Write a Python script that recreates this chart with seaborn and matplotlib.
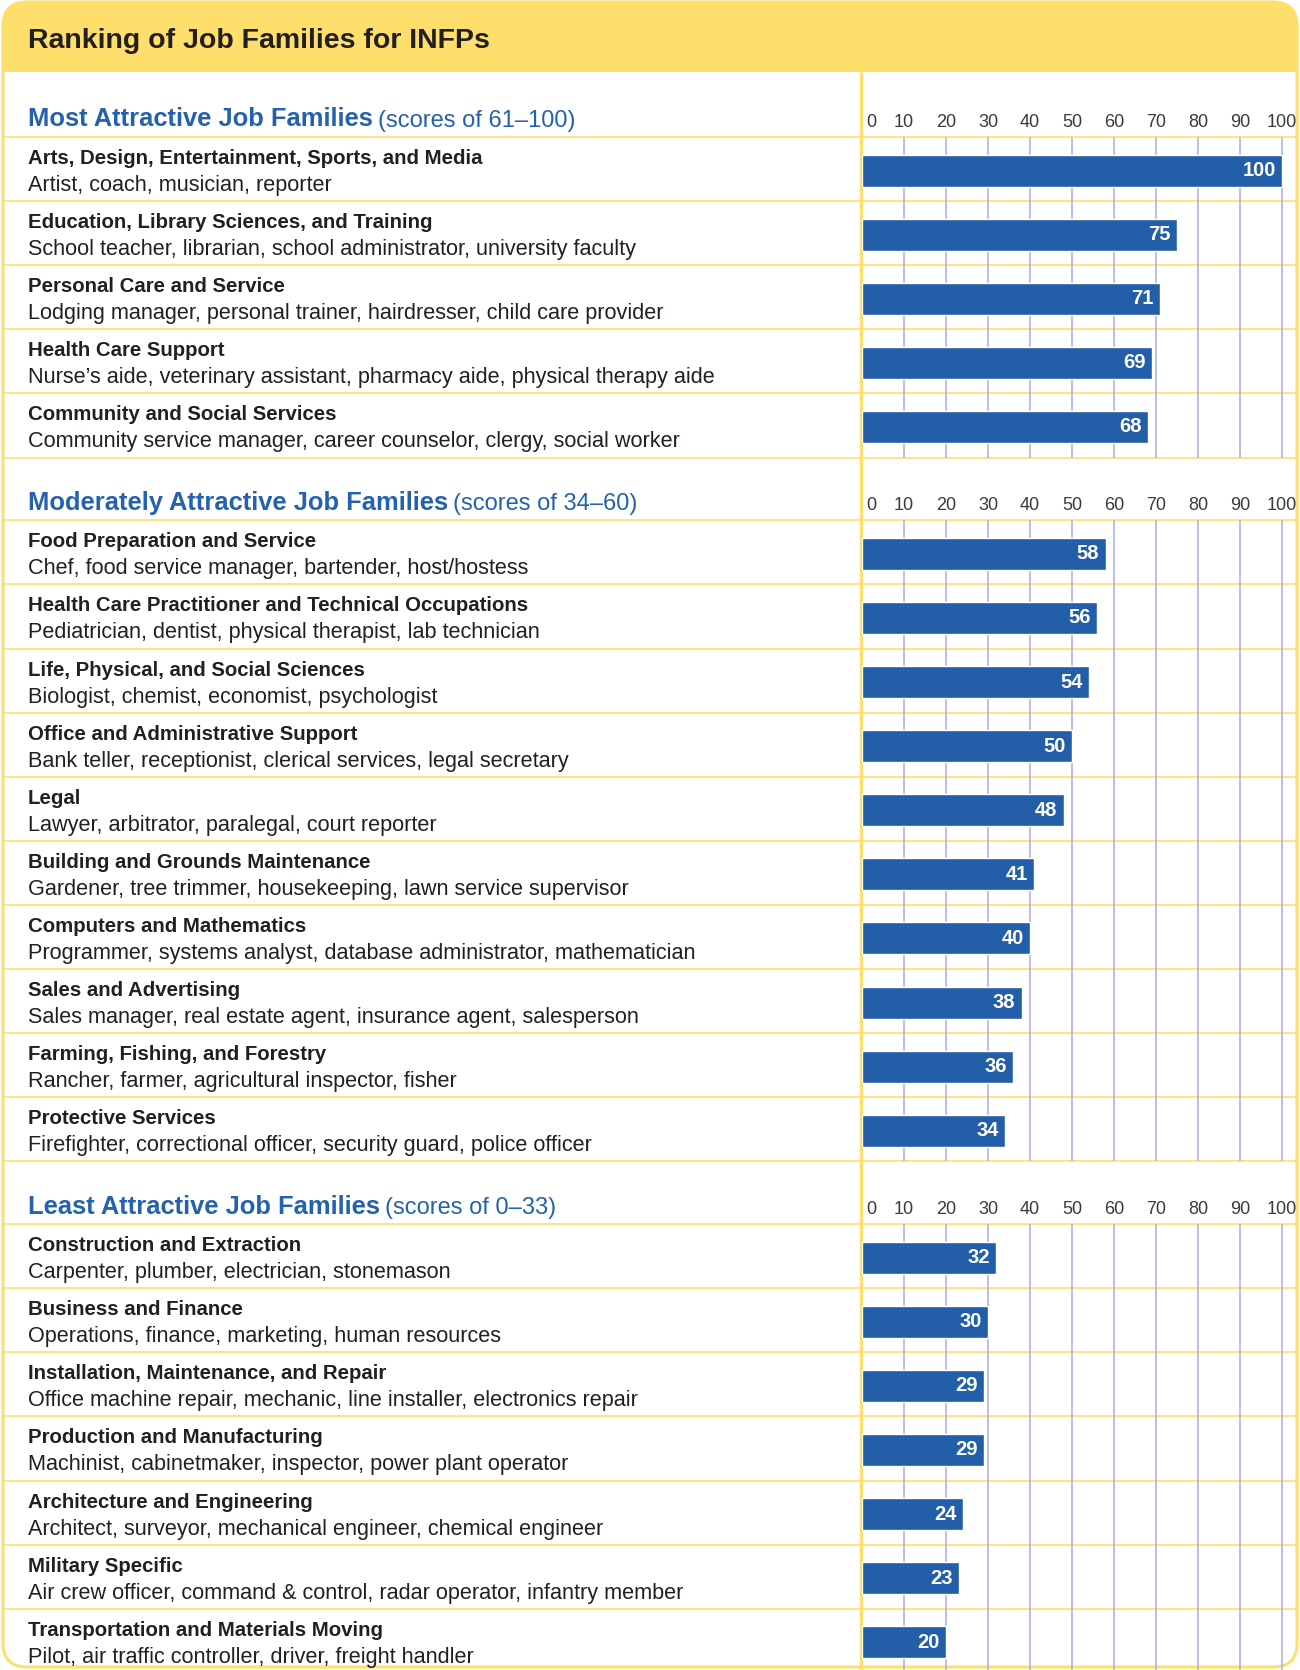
import matplotlib
matplotlib.use("Agg")
import matplotlib.pyplot as plt
from matplotlib.patches import FancyBboxPatch, Rectangle
from matplotlib.transforms import ScaledTranslation
import seaborn as sns
import pandas as pd

# ---- data ----
most_jobs = ["Arts, Design, Entertainment, Sports, and Media",
             "Education, Library Sciences, and Training",
             "Personal Care and Service",
             "Health Care Support",
             "Community and Social Services"]
most_examples = ["Artist, coach, musician, reporter",
                 "School teacher, librarian, school administrator, university faculty",
                 "Lodging manager, personal trainer, hairdresser, child care provider",
                 "Nurse’s aide, veterinary assistant, pharmacy aide, physical therapy aide",
                 "Community service manager, career counselor, clergy, social worker"]
most_scores = [100, 75, 71, 69, 68]

moderate_jobs = ["Food Preparation and Service",
                 "Health Care Practitioner and Technical Occupations",
                 "Life, Physical, and Social Sciences",
                 "Office and Administrative Support",
                 "Legal",
                 "Building and Grounds Maintenance",
                 "Computers and Mathematics",
                 "Sales and Advertising",
                 "Farming, Fishing, and Forestry",
                 "Protective Services"]
moderate_examples = ["Chef, food service manager, bartender, host/hostess",
                     "Pediatrician, dentist, physical therapist, lab technician",
                     "Biologist, chemist, economist, psychologist",
                     "Bank teller, receptionist, clerical services, legal secretary",
                     "Lawyer, arbitrator, paralegal, court reporter",
                     "Gardener, tree trimmer, housekeeping, lawn service supervisor",
                     "Programmer, systems analyst, database administrator, mathematician",
                     "Sales manager, real estate agent, insurance agent, salesperson",
                     "Rancher, farmer, agricultural inspector, fisher",
                     "Firefighter, correctional officer, security guard, police officer"]
moderate_scores = [58, 56, 54, 50, 48, 41, 40, 38, 36, 34]

least_jobs = ["Construction and Extraction",
              "Business and Finance",
              "Installation, Maintenance, and Repair",
              "Production and Manufacturing",
              "Architecture and Engineering",
              "Military Specific",
              "Transportation and Materials Moving"]
least_examples = ["Carpenter, plumber, electrician, stonemason",
                  "Operations, finance, marketing, human resources",
                  "Office machine repair, mechanic, line installer, electronics repair",
                  "Machinist, cabinetmaker, inspector, power plant operator",
                  "Architect, surveyor, mechanical engineer, chemical engineer",
                  "Air crew officer, command & control, radar operator, infantry member",
                  "Pilot, air traffic controller, driver, freight handler"]
least_scores = [32, 30, 29, 29, 24, 23, 20]

section_titles = ["Most Attractive Job Families",
                  "Moderately Attractive Job Families",
                  "Least Attractive Job Families"]
section_ranges = ["(scores of 61–100)", "(scores of 34–60)", "(scores of 0–33)"]
tick_values = list(range(0, 101, 10))

# ---- style ----
BAR = "#235EA9"
BLUE_TXT = "#2461AE"
YELLOW = "#FEDF6C"
LINE_Y = "#FDE27A"
GRID = "#A7AEDC"
TXT = "#231F20"
TICK = "#3A3A3A"

sns.set_theme(style="white")
plt.rcParams["font.family"] = ["Liberation Sans", "DejaVu Sans"]
NUM_FONT = ["Liberation Sans Narrow", "Liberation Sans", "DejaVu Sans"]

W, H = 1300, 1670
fig = plt.figure(figsize=(W / 100, H / 100), dpi=100)
bg = fig.add_axes([0, 0, 1, 1])
bg.set_xlim(0, W)
bg.set_ylim(H, 0)
bg.axis("off")

# frame + header band
frame = FancyBboxPatch((3, 2), 1294, 1665, boxstyle="round,pad=0,rounding_size=24",
                       fc="white", ec="none", zorder=0)
bg.add_patch(frame)
band = Rectangle((0, 0), W, 72, fc=YELLOW, ec="none", zorder=1)
bg.add_patch(band)
band.set_clip_path(frame)
border = FancyBboxPatch((3, 2), 1294, 1665, boxstyle="round,pad=0,rounding_size=24",
                        fc="none", ec=YELLOW, lw=2.2, zorder=5)
bg.add_patch(border)
bg.text(28, 48, "Ranking of Job Families for INFPs", fontsize=20.5, fontweight="bold",
        color=TXT, va="baseline", zorder=6)

x0_px, x100_px, xr_px = 862, 1282, 1296
px_per = (x100_px - x0_px) / 100
row_h = 64.1
head_h = 62.8
bar_shift = 1.5 / row_h  # bars sit a touch below the row centre

sections = [(most_jobs, most_examples, most_scores),
            (moderate_jobs, moderate_examples, moderate_scores),
            (least_jobs, least_examples, least_scores)]

bg.vlines(861, 72, H, color=YELLOW, lw=2.4, zorder=4)

line_y = 137
for k, (jobs, examples, scores) in enumerate(sections):
    n = len(jobs)
    end_y = line_y + n * row_h

    # section heading
    t = bg.text(28, line_y - 10.5, section_titles[k], fontsize=18.4, fontweight="bold",
                color=BLUE_TXT, va="baseline", zorder=6)
    bg.annotate(section_ranges[k], xy=(1, 0), xycoords=t, xytext=(3.5, 0),
                textcoords="offset points", fontsize=17, color=BLUE_TXT, va="bottom", zorder=6)

    # row separators
    bg.hlines([line_y + i * row_h for i in range(n + 1)], 4, 1296, color=LINE_Y, lw=1.3, zorder=2)

    # row text
    for i in range(n):
        top = line_y + i * row_h
        bg.text(28, top + 27, jobs[i], fontsize=14.7, fontweight="bold", color=TXT,
                va="baseline", zorder=6)
        bg.text(28, top + 54, examples[i], fontsize=15.6, color=TXT, va="baseline", zorder=6)

    # bars
    ax = fig.add_axes([x0_px / W, 1 - end_y / H, (xr_px - x0_px) / W, (end_y - line_y) / H])
    ax.patch.set_alpha(0)
    df = pd.DataFrame({"job": jobs, "score": scores})
    sns.barplot(data=df, x="score", y="job", orient="h", color=BAR, saturation=1,
                width=0.5, ax=ax, zorder=3)
    ax.set_xlim(0, (xr_px - x0_px) / px_per)
    ax.set_ylim(n - 0.5 - bar_shift, -0.5 - bar_shift)
    ax.set_xticks(tick_values)
    ax.set_xticklabels([str(v) for v in tick_values])
    ax.xaxis.set_ticks_position("top")
    ax.tick_params(axis="x", length=0, pad=4.5, labeltop=True, labelbottom=False,
                   labelsize=13, labelcolor=TICK)
    for lbl in ax.get_xticklabels():
        lbl.set_fontfamily(NUM_FONT)
    ax.tick_params(axis="y", left=False, labelleft=False)
    ax.grid(axis="x", color=GRID, lw=1.1)
    ax.grid(axis="y", visible=False)
    ax.set_axisbelow(True)
    ax.xaxis.get_gridlines()[0].set_visible(False)
    ax.set_xlabel("")
    ax.set_ylabel("")
    for s in ax.spines.values():
        s.set_visible(False)
    first = ax.xaxis.get_major_ticks()[0].label2
    first.set_transform(first.get_transform() + ScaledTranslation(0.09, 0, fig.dpi_scale_trans))

    vals = ax.bar_label(ax.containers[0], padding=-4.5, color="white", fontweight="bold",
                        fontsize=14.5, fontfamily=NUM_FONT)
    for v in vals:
        v.set_ha("right")

    line_y = end_y + head_h

fig.savefig("out.png", dpi=100)
